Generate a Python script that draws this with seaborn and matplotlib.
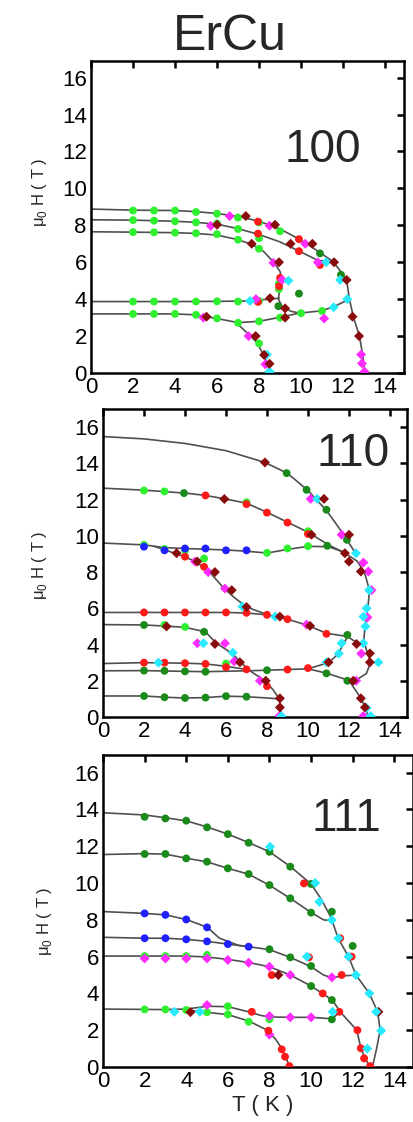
import numpy as np
import pandas as pd
import seaborn as sns
import matplotlib.pyplot as plt

# ---------------- 100 ----------------
# phase lines (T, H)
c100_a = [(0, 8.88), (2, 8.82), (4, 8.8), (5, 8.74), (6, 8.64), (7, 8.48), (8, 8.22), (9, 7.8), (10, 7.2),
          (10.8, 6.6), (11.5, 6.05), (12.0, 5.35), (12.2, 4.8), (12.3, 4.0), (12.5, 3.0), (12.78, 2.0),
          (12.93, 1.0), (13.05, 0)]
c100_b = [(0, 8.3), (2, 8.28), (4, 8.22), (5, 8.16), (6, 8.06), (7, 7.82), (8, 7.5), (9, 7.1), (10, 6.55),
          (10.8, 6.1), (11.5, 6.02)]
c100_c = [(0, 7.65), (2, 7.63), (4, 7.6), (5, 7.56), (6, 7.47), (7, 7.22), (7.7, 6.95), (8.2, 6.6), (8.7, 6.0),
          (9.0, 5.5), (9.08, 5.0), (8.98, 4.5), (8.92, 4.0), (9.1, 3.6), (9.5, 3.35), (9.9, 3.25)]
c100_d = [(0, 3.87), (2, 3.87), (4, 3.87), (6, 3.88), (7.5, 3.9), (8.3, 3.98), (8.95, 4.05)]
c100_e = [(0, 3.2), (2, 3.2), (4, 3.2), (5, 3.15), (6, 2.95), (7, 2.73), (8, 2.8), (9, 3.02), (9.9, 3.24),
          (10.9, 3.36), (11.5, 3.56), (12.3, 4.0)]
c100_f = [(6.9, 2.74), (7.5, 2.1), (7.9, 1.65), (8.2, 1.0), (8.4, 0.5), (8.5, 0)]

# measured points
lime100 = [(2, 8.8), (3, 8.8), (4, 8.8), (5, 8.72), (6, 8.63), (7, 8.42), (8, 8.15), (9, 7.68),
           (2, 8.28), (3, 8.25), (4, 8.22), (5, 8.16), (6, 8.1), (7, 7.8), (8, 7.3),
           (2, 7.63), (3, 7.62), (4, 7.6), (5, 7.57), (6, 7.52), (7, 7.22), (8, 6.73),
           (2, 3.87), (3, 3.87), (4, 3.87), (5, 3.87), (6, 3.88), (7, 3.87), (8, 3.9),
           (2, 3.2), (3, 3.2), (4, 3.2), (5, 3.15), (6, 2.96), (7, 2.72), (8, 2.8), (9, 3.0), (10, 3.24),
           (11, 3.36), (8.95, 4.55), (8.95, 4.85), (8.0, 1.6)]
red100 = [(7.95, 8.2), (7.95, 7.55), (9.9, 7.25), (9.9, 6.6), (10.9, 5.85), (9.0, 5.15), (8.95, 4.7), (7.95, 3.85)]
dkgreen100 = [(10.9, 6.48), (11.9, 5.32), (9.9, 4.3), (8.92, 3.62)]
magenta100 = [(6.6, 8.5), (5.7, 7.97), (8.5, 7.98), (10.2, 7.0), (10.8, 5.99), (8.68, 5.97), (9.1, 5.05),
              (7.85, 4.0), (5.35, 3.0), (11.1, 2.95), (7.5, 2.0), (8.3, 0.47), (12.86, 1.0), (12.9, 0.52),
              (13.02, 0.07)]
cyan100 = [(11.2, 6.0), (11.86, 5.04), (12.2, 4.0), (11.55, 3.56), (7.57, 3.9), (9.4, 5.0), (8.5, 0.07),
           (8.37, 1.0)]
dkred100 = [(7.37, 8.5), (8.76, 8.03), (6.0, 8.03), (9.5, 7.0), (10.54, 7.0), (11.57, 6.0), (12.17, 5.04),
            (12.45, 3.05), (12.76, 2.0), (7.65, 7.0), (8.95, 6.0), (8.52, 4.05), (9.24, 3.5), (9.24, 3.0),
            (5.5, 3.05), (7.84, 2.0), (8.24, 0.98), (8.5, 0.5)]

# ---------------- 110 ----------------
c110_a = [(0, 15.48), (2, 15.35), (4, 15.1), (6, 14.7), (7.9, 14.05), (9, 13.45), (10, 12.5), (10.9, 11.4),
          (11.6, 10.3), (12.0, 9.6), (12.4, 8.9)]
c110_b = [(0, 12.63), (2, 12.52), (4, 12.36), (5, 12.23), (6, 12.03), (7, 11.8), (8, 11.3), (9, 10.75),
          (10, 10.2), (11, 9.5), (11.8, 9.05), (12.4, 8.6), (12.75, 8.0), (13.0, 7.0), (12.92, 6.0),
          (12.78, 5.0), (12.72, 4.2), (12.88, 3.6), (13.05, 3.0), (12.85, 2.4), (12.3, 2.0)]
c110_c = [(0, 9.6), (2, 9.5), (3, 9.35), (4, 9.3), (6, 9.22), (7, 9.15), (8, 9.05), (9, 9.25), (10, 9.42),
          (11, 9.4), (11.8, 9.08)]
c110_d = [(2.5, 9.42), (3.6, 9.0), (4.5, 8.6), (5.2, 8.0), (5.9, 7.1), (6.4, 6.6), (7.0, 6.07), (7.9, 5.7)]
c110_e = [(0, 5.77), (2, 5.77), (4, 5.77), (6, 5.77), (7, 5.74), (8, 5.64), (9, 5.4), (10, 5.05), (10.9, 4.62),
          (11.9, 4.45), (12.4, 4.1), (12.72, 4.0)]
c110_f = [(0, 5.1), (2, 5.08), (3, 5.02), (4, 4.95), (5, 4.7), (5.5, 4.1), (6.3, 3.5), (6.7, 3.05), (7.1, 2.6),
          (7.9, 2.0), (8.3, 1.5), (8.6, 1.0), (8.67, 0.5), (8.72, 0)]
c110_g = [(0, 2.95), (2, 3.0), (4, 2.97), (5, 2.93), (6, 2.8), (7, 2.62)]
c110_h = [(0, 2.55), (2, 2.56), (5, 2.5), (7, 2.55), (8, 2.58), (9, 2.62), (10, 2.66), (10.9, 2.42),
          (12.0, 2.02), (12.6, 1.0), (12.8, 0.5), (12.95, 0)]
c110_i = [(10, 2.66), (11, 3.0), (11.5, 3.5), (11.7, 4.0), (11.95, 4.45)]
c110_j = [(0, 1.16), (2, 1.16), (3, 1.09), (4, 1.05), (5, 1.07), (6, 1.15), (7, 1.12), (8, 1.05), (8.6, 1.0)]

lime110 = [(2, 12.5), (3, 12.45), (7, 11.85), (10, 10.25), (2, 9.5), (3, 9.28), (4, 9.2), (4.93, 8.75),
           (8, 9.06), (9, 9.3), (10, 9.43), (3, 5.08), (4, 4.97), (6, 2.95)]
dkgreen110 = [(8.96, 13.46), (9.93, 12.54), (10.9, 11.44), (11.9, 9.78), (3.95, 12.36), (10.94, 9.45),
              (11.92, 4.53), (4.93, 4.7), (2, 5.08), (11.92, 2.0), (10.9, 2.41), (2, 2.56), (3, 2.55),
              (4, 2.52), (5, 2.5), (8, 2.58), (2, 1.16), (3, 1.09), (4, 1.05), (5, 1.07), (6, 1.15), (7, 1.12)]
red110 = [(5, 12.23), (7, 11.75), (8, 11.28), (9, 10.73), (10, 10.1), (4, 8.85), (4.93, 8.29), (2, 5.77),
          (3, 5.77), (4, 5.77), (5, 5.77), (6, 5.77), (7, 5.75), (8, 5.64), (9, 5.4), (10.9, 4.59), (2, 3.0),
          (3, 3.0), (4, 2.97), (5, 2.93), (6, 2.75), (7, 2.63), (8, 1.7), (9, 2.62), (10, 2.7)]
blue110 = [(2, 9.4), (3, 9.2), (4, 9.3), (5, 9.3), (6, 9.2), (7, 9.2)]
magenta110 = [(10.13, 12.04), (11.64, 10.06), (12.7, 8.52), (12.94, 8.03), (13.1, 7.0), (12.9, 5.5),
              (4.49, 8.58), (5.13, 8.0), (5.95, 7.09), (9.93, 5.1), (12.6, 3.5), (12.35, 2.0), (12.7, 0.05),
              (4.6, 4.07), (5.95, 4.07), (6.4, 3.07), (7.66, 2.0), (8.6, 0.05)]
cyan110 = [(10.45, 12.04), (12.34, 9.04), (12.98, 7.0), (12.86, 6.0), (12.7, 5.54), (12.8, 5.0), (12.7, 4.07),
           (13.43, 3.02), (11.64, 4.07), (11.5, 3.5), (10.9, 3.02), (6.8, 6.1), (8.4, 5.54), (4.9, 4.07),
           (6.33, 3.55), (2.7, 3.0), (12.85, 0.5), (13.05, 0.05), (8.7, 0.05)]
dkred110 = [(7.9, 14.05), (10.78, 12.04), (5.92, 12.03), (10.17, 10.06), (12.0, 10.06), (11.8, 9.04),
            (12.0, 8.58), (12.58, 8.03), (3.59, 9.04), (4.6, 8.58), (5.46, 8.0), (6.28, 7.0), (7.0, 6.07),
            (8.63, 5.54), (10.1, 5.03), (12.37, 4.03), (13.02, 3.51), (13.02, 3.02), (11.0, 3.02),
            (6.68, 3.02), (3.1, 5.0), (5.46, 4.03), (7.94, 2.0), (8.63, 1.03), (8.63, 0.53), (12.21, 2.0),
            (12.58, 1.03), (12.78, 0.53)]

# ---------------- 111 ----------------
c111_a = [(0, 13.82), (2, 13.7), (3, 13.55), (4, 13.38), (5, 13.05), (6, 12.66), (7, 12.2), (8, 11.7),
          (9, 10.9), (10, 9.95), (10.5, 9.1), (11, 8.05)]
c111_b = [(0, 11.55), (2, 11.6), (3, 11.57), (4, 11.35), (5, 11.15), (6, 10.8), (7, 10.48), (8, 9.88),
          (9, 9.17), (10, 8.4), (10.6, 8.0), (11, 7.95)]
c111_out = [(11, 8.0), (11.3, 7.0), (11.8, 6.0), (12.16, 5.0), (12.8, 4.0), (13.2, 3.0), (13.32, 2.0),
            (13.15, 1.0), (12.95, 0)]
c111_c = [(0, 8.45), (2, 8.35), (3, 8.27), (4, 8.02), (5, 7.6), (5.6, 7.0), (6.5, 6.62), (7, 6.53)]
c111_d = [(0, 7.05), (2, 7.0), (3, 7.0), (4, 6.94), (5, 6.83), (6, 6.68), (7, 6.54), (8, 6.38), (9, 5.96),
          (10, 5.45), (10.6, 5.0), (11, 4.85), (11.5, 4.95), (12.16, 5.0)]
c111_e = [(0, 6.03), (2, 6.03), (4, 6.03), (5, 5.98), (6, 5.85), (7, 5.68), (8, 5.45), (9, 5.0), (10, 4.4),
          (10.55, 4.0), (11.05, 3.6), (11.4, 3.0), (11.8, 2.5), (12.2, 2.0), (12.4, 1.0), (12.6, 0.45),
          (12.85, 0)]
c111_f = [(0, 3.15), (2, 3.13), (3, 3.12), (4, 3.15), (5, 3.3), (6, 3.28), (7, 3.0), (7.6, 2.8), (8, 2.72),
          (9, 2.7), (10, 2.7), (11, 2.62), (11.4, 3.0)]
c111_g = [(4, 3.1), (5, 2.97), (6, 2.85), (7, 2.5), (7.9, 2.0), (8.3, 1.5), (8.6, 1.0), (8.8, 0.5), (8.97, 0)]

dkgreen111 = [(2, 13.6), (3, 13.51), (4, 13.39), (5, 13.03), (6, 12.66), (7, 12.19), (8, 11.7), (9, 10.89),
              (10, 9.95), (11, 8.44), (12, 6.58), (2, 11.58), (3, 11.58), (4, 11.34), (5, 11.16), (6, 10.8),
              (7, 10.49), (8, 9.89), (9, 9.17), (10, 8.39), (8, 6.4), (9, 5.96), (10, 5.49), (10, 4.4),
              (11, 3.64), (11, 2.59)]
blue111 = [(2, 8.35), (3, 8.27), (4, 8.02), (5, 7.59), (2, 7.0), (3, 7.0), (4, 6.94), (5, 6.83), (6, 6.68),
           (7, 6.54)]
lime111 = [(2, 6.03), (3, 6.03), (4, 6.03), (5, 6.09), (2, 3.13), (3, 3.13), (4, 3.1), (5, 2.98), (6, 3.3),
           (6, 2.86), (7, 2.46), (8, 2.59)]
magenta111 = [(2, 5.9), (3, 5.9), (4, 5.9), (5, 5.9), (6, 5.82), (7, 5.67), (8, 5.45), (9, 5.0), (11, 4.87),
              (5, 3.37), (8, 2.77), (9, 2.7), (10, 2.7), (8, 1.76)]
red111 = [(9.66, 9.98), (11.4, 7.0), (11.95, 6.0), (9.9, 5.96), (11.47, 5.0), (8.11, 5.0), (10.56, 4.0),
          (11.36, 3.0), (12.23, 2.0), (12.39, 1.02), (12.55, 0.47), (12.84, 0.05), (7.15, 3.0), (7.95, 1.97),
          (8.59, 0.96), (8.75, 0.56), (8.96, 0.05)]
dkred111 = [(8.43, 5.0), (13.24, 3.0), (4.2, 2.98)]
cyan111 = [(8.03, 11.97), (10.2, 10.0), (10.4, 8.98), (11.0, 7.99), (11.31, 7.0), (11.8, 6.0), (12.16, 5.0),
           (12.8, 4.0), (13.13, 3.0), (13.37, 1.97), (3.43, 3.0), (4.65, 3.0), (11.04, 3.0), (9.8, 6.0),
           (12.7, 1.0)]

colors = {'lime': '#2ef02e', 'dkgreen': '#1a8a1a', 'red': '#ff1a1a', 'blue': '#1f1fff',
          'magenta': '#ff2bff', 'cyan': '#27eaff', 'dkred': '#8a0b0b'}
shapes = {'lime': 'o', 'dkgreen': 'o', 'red': 'o', 'blue': 'o', 'magenta': 'D', 'cyan': 'D', 'dkred': 'D'}
sizes = {'lime': 32, 'dkgreen': 32, 'red': 32, 'blue': 32, 'magenta': 26, 'cyan': 26, 'dkred': 26}


def lines_df(curves):
    rows = []
    for i, c in enumerate(curves):
        for t, h in c:
            rows.append((i, t, h))
    return pd.DataFrame(rows, columns=['line', 'T', 'H'])


def points_df(groups):
    rows = []
    for kind, pts in groups:
        for t, h in pts:
            rows.append((kind, t, h))
    return pd.DataFrame(rows, columns=['kind', 'T', 'H'])


sns.set_style("white")
plt.rcParams['font.family'] = ['Liberation Sans', 'DejaVu Sans']
plt.rcParams['mathtext.fontset'] = 'custom'
plt.rcParams['mathtext.rm'] = 'Liberation Sans'

fig = plt.figure(figsize=(4.14, 11.22), dpi=100)
W, H = 414, 1122

panels = [
    ('100', [91, 373, 313, 312], 14.9, 16.9, (11.05, 12.1),
     [c100_a, c100_b, c100_c, c100_d, c100_e, c100_f],
     [('lime', lime100), ('red', red100), ('dkgreen', dkgreen100), ('magenta', magenta100),
      ('cyan', cyan100), ('dkred', dkred100)]),
    ('110', [103, 717, 304, 308], 14.83, 17.0, (12.2, 14.5),
     [c110_a, c110_b, c110_c, c110_d, c110_e, c110_f, c110_g, c110_h, c110_i, c110_j],
     [('lime', lime110), ('dkgreen', dkgreen110), ('red', red110), ('blue', blue110),
      ('magenta', magenta110), ('cyan', cyan110), ('dkred', dkred110)]),
    ('111', [103, 1067, 310, 312], 14.9, 16.96, (11.7, 13.5),
     [c111_a, c111_b, c111_out, c111_c, c111_d, c111_e, c111_f, c111_g],
     [('dkgreen', dkgreen111), ('blue', blue111), ('lime', lime111), ('magenta', magenta111),
      ('red', red111), ('dkred', dkred111), ('cyan', cyan111)]),
]

for name, (l, b, w, h), xmax, ymax, lab, curves, groups in panels:
    ax = fig.add_axes([l / W, 1 - b / H, w / W, h / H])
    ldf = lines_df(curves)
    sns.lineplot(data=ldf, x='T', y='H', units='line', estimator=None, sort=False,
                 color='#505050', lw=1.2, ax=ax, legend=False)
    pdf = points_df(groups)
    sns.scatterplot(data=pdf, x='T', y='H', hue='kind', style='kind', size='kind',
                    palette=colors, markers=shapes, sizes=sizes, linewidth=0, legend=False,
                    ax=ax, zorder=3)
    ax.set_xlim(0, xmax)
    ax.set_ylim(0, ymax)
    ax.set_xticks(range(0, 15, 2))
    ax.set_yticks(range(0, 17, 2))
    ax.set_xlabel('')
    ax.set_ylabel('')
    ax.tick_params(direction='in', top=True, right=True, length=5, width=1.8,
                   labelsize=16, pad=3, colors='black')
    for s in ax.spines.values():
        s.set_linewidth(1.8)
        s.set_color('black')
    ax.text(lab[0], lab[1], name, fontsize=33, ha='center', va='center')

fig.text(230 / W, 1 - 50 / H, 'ErCu', fontsize=36, ha='center', va='baseline')
ylab = 'μ$_{\\mathrm{0}}$ H ( T )'
fig.text(40 / W, 1 - 192 / H, ylab, fontsize=12, rotation=90, ha='center', va='center')
fig.text(40 / W, 1 - 565 / H, ylab, fontsize=12, rotation=90, ha='center', va='center')
fig.text(45 / W, 1 - 921 / H, ylab, fontsize=12, rotation=90, ha='center', va='center')
fig.text(263 / W, 1 - 1105 / H, 'T ( K )', fontsize=16, ha='center', va='center')

plt.savefig('out.png', dpi=100)
